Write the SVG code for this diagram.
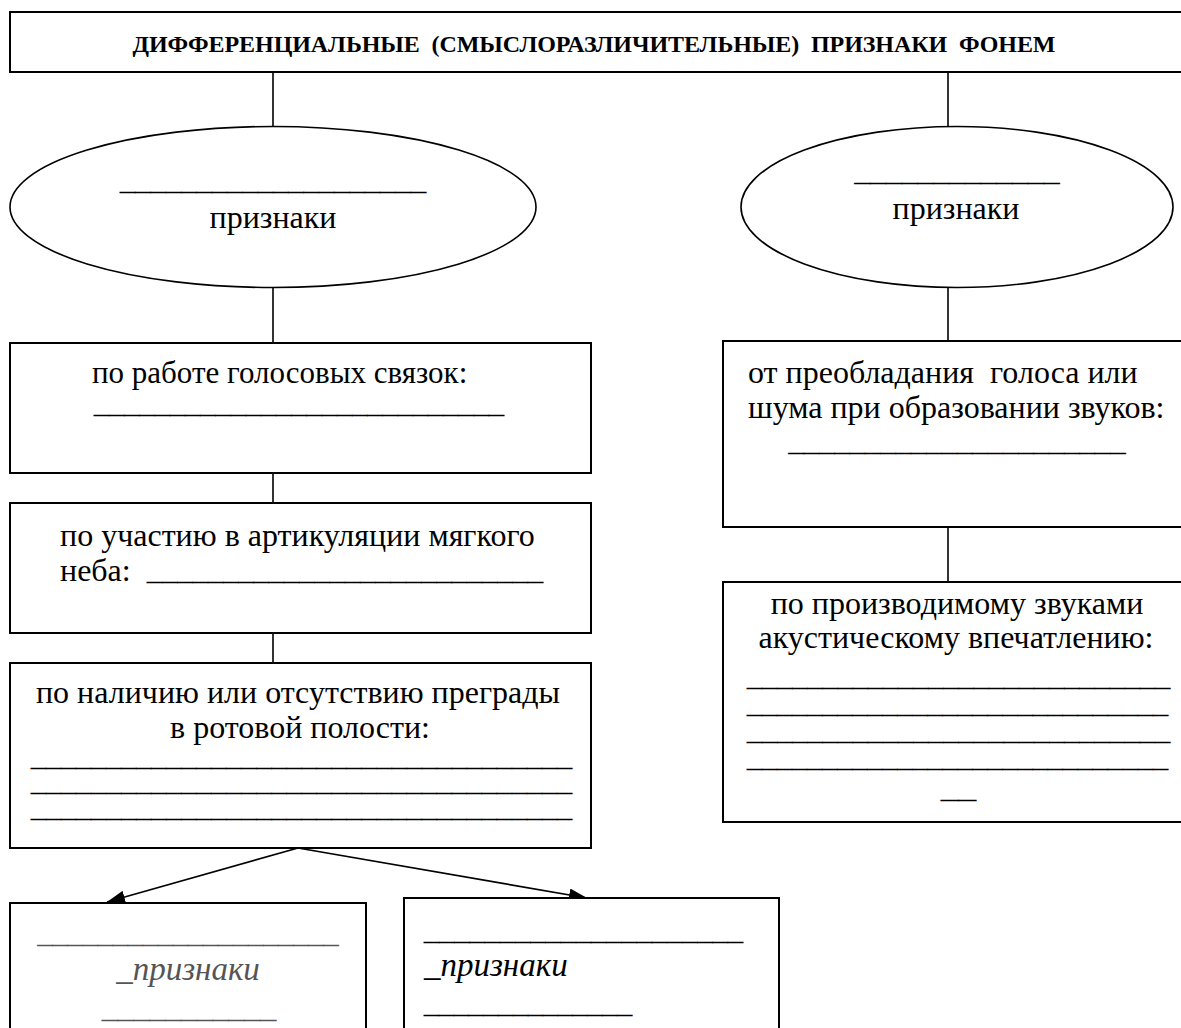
<svg xmlns="http://www.w3.org/2000/svg" width="1181" height="1028" viewBox="0 0 1181 1028">
<defs>
<style>
.box{fill:#fff;stroke:#000;stroke-width:2}
.ell{fill:#fff;stroke:#000;stroke-width:1.6}
.con{stroke:#000;stroke-width:1.6;fill:none}
.t{font-family:"Liberation Serif","Times New Roman",serif;font-size:32px;fill:#000}
.u{font-family:"Liberation Serif","Times New Roman",serif;font-size:22px;fill:#000;stroke:#000;stroke-width:0.4}
.c{text-anchor:middle}
.title{font-family:"Liberation Serif","Times New Roman",serif;font-size:24px;font-weight:bold;fill:#000;text-anchor:middle}
.it{font-family:"Liberation Serif","Times New Roman",serif;font-size:33px;font-style:italic;fill:#000}
.gray{fill:#555;stroke:#555}
.grayt{fill:#555}
</style>
<marker id="ah" viewBox="0 0 18 13" refX="18" refY="6.5" markerWidth="18" markerHeight="13" markerUnits="userSpaceOnUse" orient="auto">
<path d="M0,0 L18,6.5 L0,13 Z" fill="#000"/>
</marker>
</defs>
<rect width="1181" height="1028" fill="#fff"/>
<g id="connectors">
<line class="con" x1="273" y1="72" x2="273" y2="126"/>
<line class="con" x1="948" y1="72" x2="948" y2="126"/>
<line class="con" x1="273" y1="287" x2="273" y2="343"/>
<line class="con" x1="948" y1="287" x2="948" y2="341"/>
<line class="con" x1="273" y1="473" x2="273" y2="503"/>
<line class="con" x1="273" y1="633" x2="273" y2="663"/>
<line class="con" x1="948" y1="527" x2="948" y2="582"/>
<line class="con" x1="298" y1="848" x2="107" y2="902" marker-end="url(#ah)"/>
<line class="con" x1="298" y1="848" x2="587" y2="898" marker-end="url(#ah)"/>
</g>
<g id="title">
<rect class="box" x="10" y="12" width="1180" height="60"/>
<text class="title" x="594" y="52" textLength="923" lengthAdjust="spacing" xml:space="preserve">ДИФФЕРЕНЦИАЛЬНЫЕ  (СМЫСЛОРАЗЛИЧИТЕЛЬНЫЕ)  ПРИЗНАКИ  ФОНЕМ</text>
</g>
<g id="ellipse-left">
<ellipse class="ell" cx="273" cy="207" rx="263" ry="80.5"/>
<text class="u c" x="273" y="190" textLength="306" lengthAdjust="spacingAndGlyphs">____________________</text>
<text class="t c" x="273" y="228">признаки</text>
</g>
<g id="ellipse-right">
<ellipse class="ell" cx="957" cy="207" rx="216" ry="80.5"/>
<text class="u c" x="957" y="181" textLength="205" lengthAdjust="spacingAndGlyphs">_____________</text>
<text class="t c" x="956" y="219">признаки</text>
</g>
<g id="box-voice">
<rect class="box" x="10" y="343" width="581" height="130"/>
<text class="t" x="92" y="383" style="font-size:31px">по работе голосовых связок:</text>
<text class="u c" x="299" y="413" textLength="410" lengthAdjust="spacingAndGlyphs">___________________________</text>
</g>
<g id="box-palate">
<rect class="box" x="10" y="503" width="581" height="130"/>
<text class="t" x="60" y="546">по участию в артикуляции мягкого</text>
<text class="t" x="60" y="581">неба:</text>
<text class="u" x="147" y="580" textLength="396" lengthAdjust="spacingAndGlyphs">__________________________</text>
</g>
<g id="box-obstacle">
<rect class="box" x="10" y="663" width="581" height="185"/>
<text class="t c" x="298" y="703">по наличию или отсутствию преграды</text>
<text class="t c" x="300" y="738">в ротовой полости:</text>
<text class="u" x="31" y="766" textLength="541" lengthAdjust="spacingAndGlyphs">____________________________________</text>
<text class="u" x="31" y="791" textLength="541" lengthAdjust="spacingAndGlyphs">____________________________________</text>
<text class="u" x="31" y="817" textLength="541" lengthAdjust="spacingAndGlyphs">____________________________________</text>
</g>
<g id="box-noise">
<rect class="box" x="723" y="341" width="470" height="186"/>
<text class="t" x="748" y="383" xml:space="preserve">от преобладания  голоса или</text>
<text class="t" x="748" y="418">шума при образовании звуков:</text>
<text class="u c" x="957" y="451" textLength="337" lengthAdjust="spacingAndGlyphs">______________________</text>
</g>
<g id="box-acoustic">
<rect class="box" x="723" y="582" width="470" height="240"/>
<text class="t c" x="957" y="614">по производимому звуками</text>
<text class="t c" x="956" y="648">акустическому впечатлению:</text>
<text class="u" x="747" y="686" textLength="423" lengthAdjust="spacingAndGlyphs">____________________________</text>
<text class="u" x="747" y="713" textLength="421" lengthAdjust="spacingAndGlyphs">____________________________</text>
<text class="u" x="747" y="740" textLength="423" lengthAdjust="spacingAndGlyphs">____________________________</text>
<text class="u" x="747" y="767" textLength="421" lengthAdjust="spacingAndGlyphs">____________________________</text>
<text class="u" x="941" y="798" textLength="35" lengthAdjust="spacingAndGlyphs">__</text>
</g>
<g id="box-bottom-left">
<rect class="box" x="10" y="903" width="356" height="200"/>
<text class="u c gray" x="188" y="943" textLength="301" lengthAdjust="spacingAndGlyphs">____________________</text>
<text class="it c grayt" x="188" y="980">_признаки</text>
<text class="u c gray" x="189" y="1018" textLength="174" lengthAdjust="spacingAndGlyphs">___________</text>
</g>
<g id="box-bottom-right">
<rect class="box" x="404" y="898" width="375" height="200"/>
<text class="u" x="424" y="940" textLength="319" lengthAdjust="spacingAndGlyphs">_____________________</text>
<text class="it" x="424" y="976">_признаки</text>
<text class="u" x="424" y="1013" textLength="208" lengthAdjust="spacingAndGlyphs">______________</text>
</g>
</svg>
